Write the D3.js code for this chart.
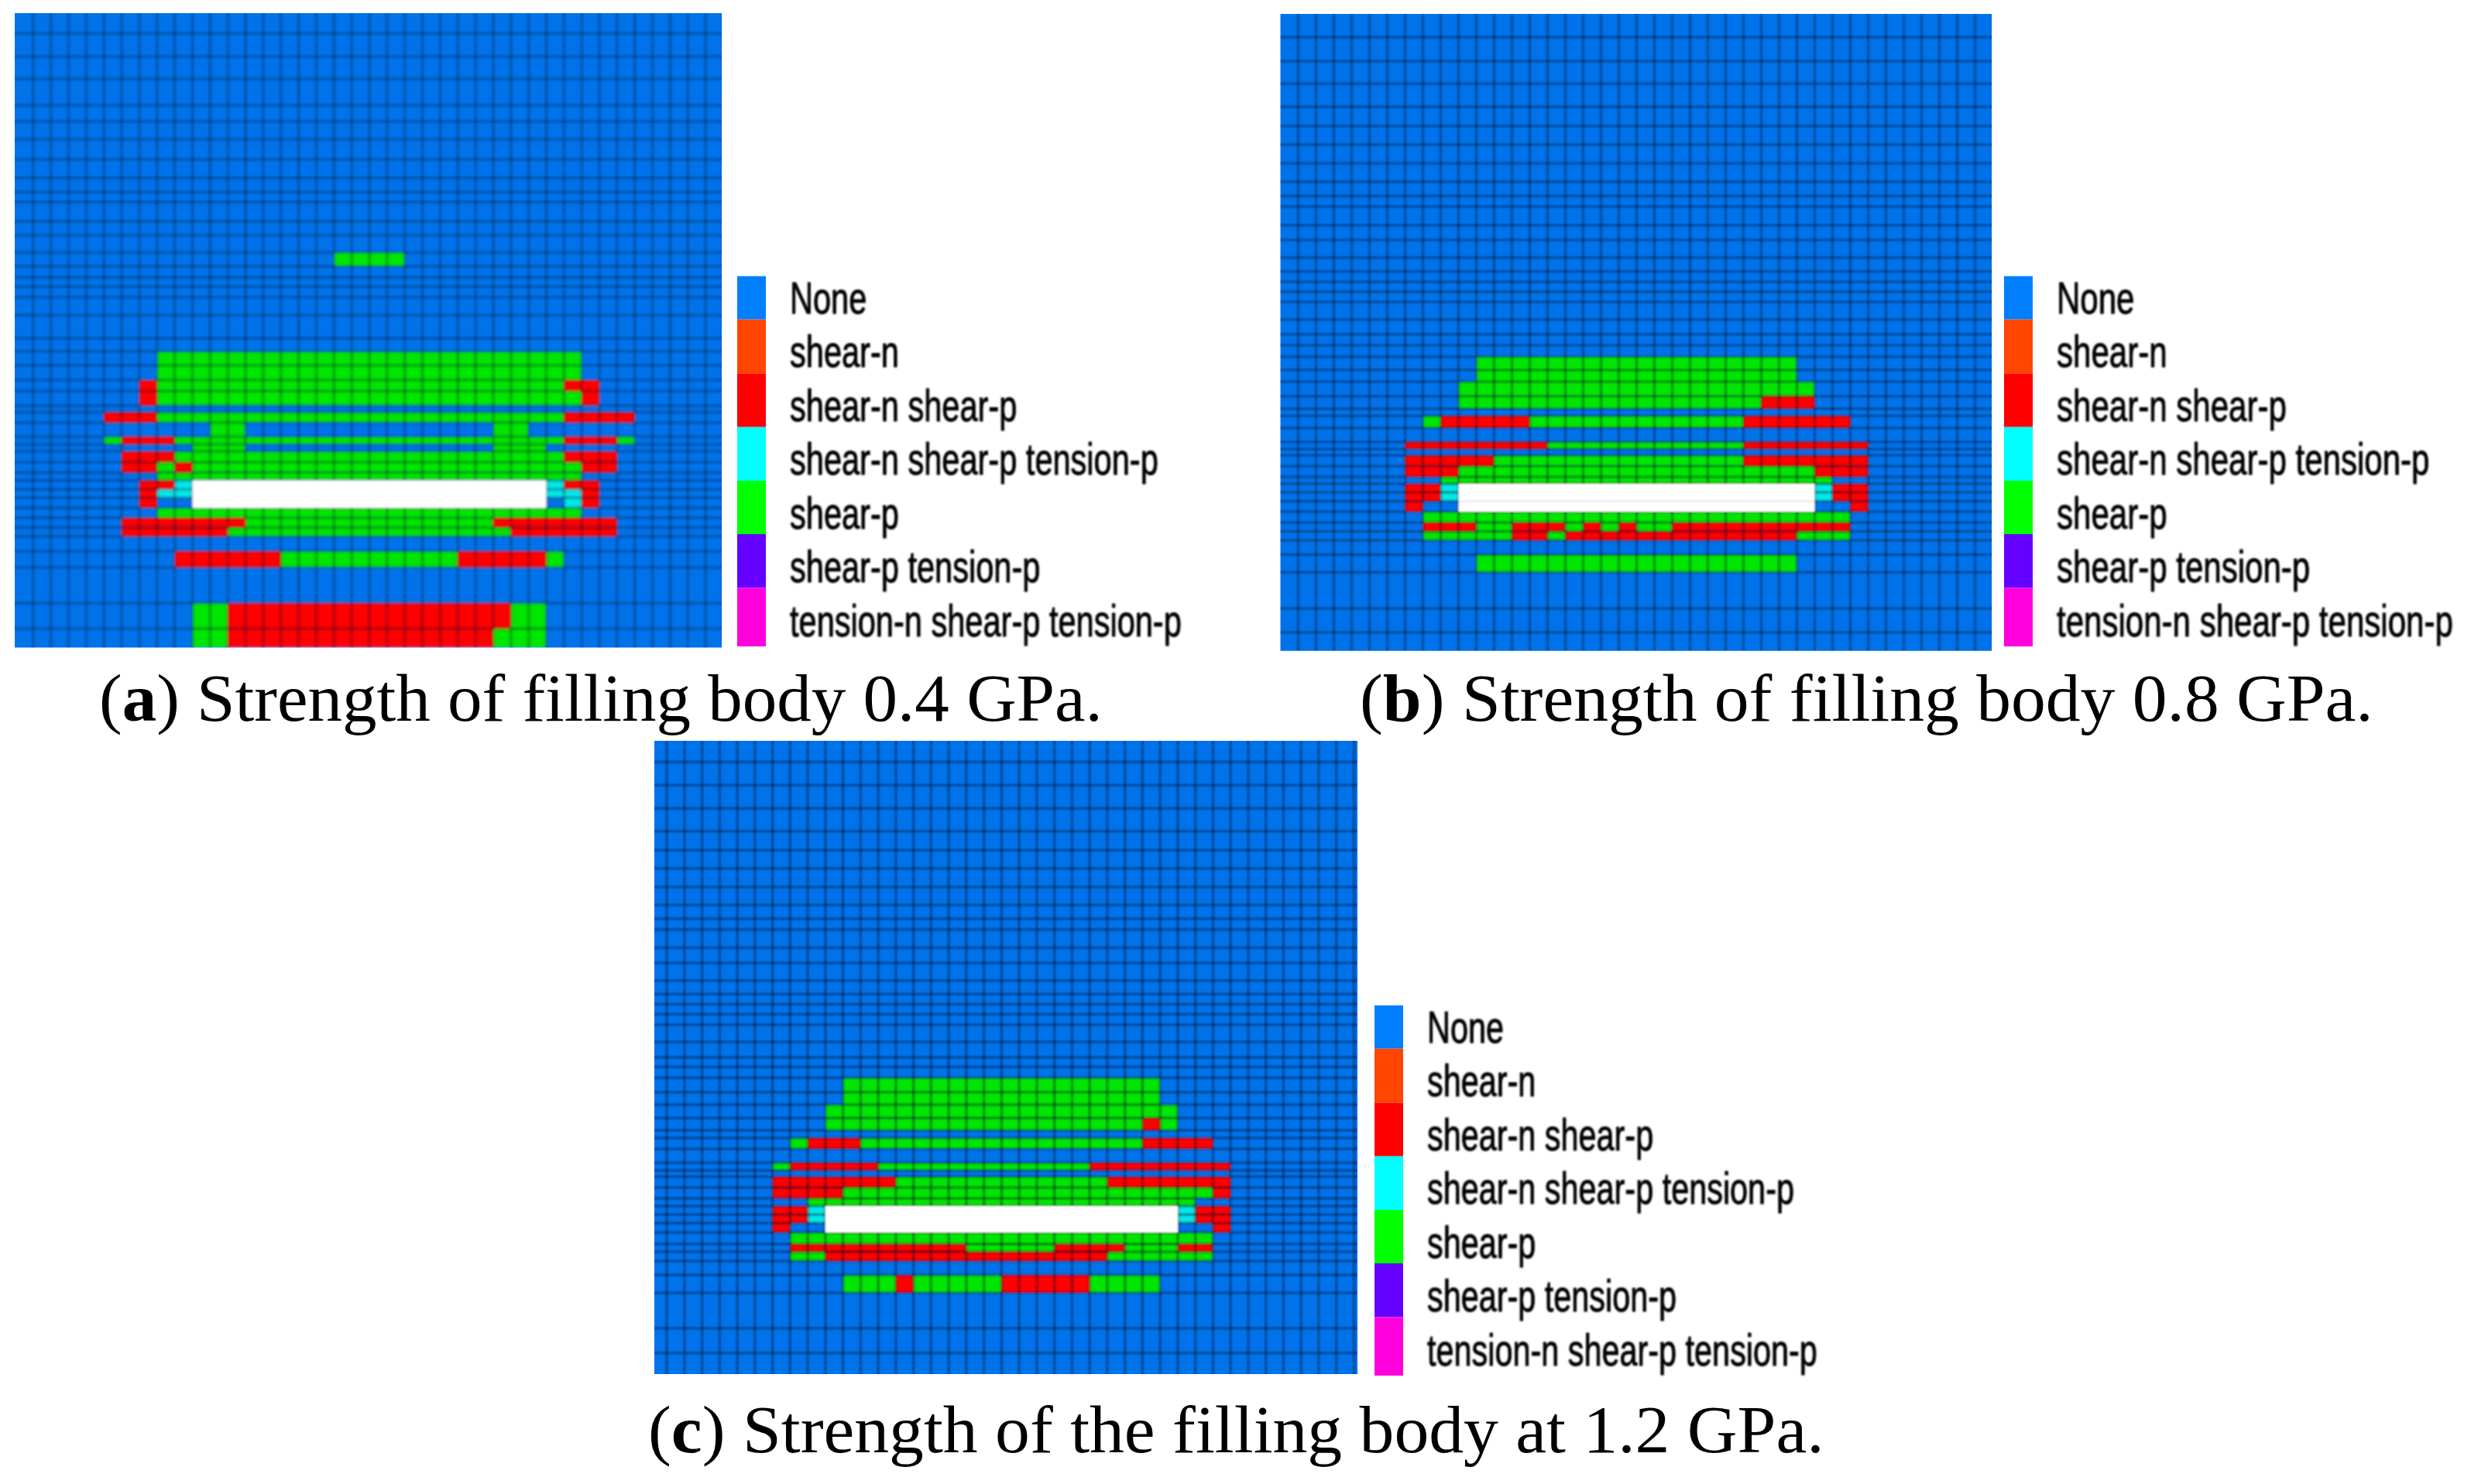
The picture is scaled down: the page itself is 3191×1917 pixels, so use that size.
<!DOCTYPE html>
<html>
<head>
<meta charset="utf-8">
<title>Plastic zones</title>
<script src="https://cdn.jsdelivr.net/npm/d3@7"></script>
<style>html,body{margin:0;padding:0;background:#fff}svg{display:block}</style>
</head>
<body>
<script>
// ---------- data ----------
const categories = ["None","shear-n","shear-n shear-p","shear-n shear-p tension-p","shear-p","shear-p tension-p","tension-n shear-p tension-p"];
const legendColors = ["#0080ff","#ff4500","#ff0000","#00ffff","#00ff00","#6400ff","#ff00dd"];
const legendEdges = [0,56,125.7,195,264.3,333.3,402.6,478.3];
const columnCount = 40;
const N=0, R=2, C=3, G=4, H=-1; // state index into categories; H = excavated hole

const rowEdgesA = [0,26,56,85,119,140,163,189,213,231,244,269,287,309,327,341,353,367,390,420,437,455,474,488,507,515.5,529,547,557,566,580,593.5,603.5,615,626,639,652,664.5,676,695,716,762,795,819.5];
const rowEdgesB = [0,30,61,90,120,144.7,168.7,193,217,235,248.7,272.7,292,314.7,332.7,346,358.7,372,394.7,413.7,428,442.7,460,475,493.7,510,519.3,534.7,552.7,562,570.3,584.3,598,607,618,629.5,643,657,668.5,680,698.5,721.3,768,798.7,822.7];
const rowEdgesC = [0,27.3,57.3,87.3,116.7,141.3,164.7,188.7,212,229.7,243.7,267.3,287,309.7,327.3,340.3,353.3,366.7,388.7,408.7,421.3,435.3,453.7,470,487.3,503.3,513,527,545,554.7,563,577,591,601,612,623,635,650,660,672,690,713,758.7,790.7,818];

// each zone: [meshY0, meshY1, [colStart, colEnd, state], ...]
const zonesA = [
 [309,327,[18,22,G]],
 [437,474,[8,32,G]],
 [474,488,[7,8,R],[8,31,G],[31,33,R]],
 [488,507,[7,8,R],[8,32,G],[32,33,R]],
 [515.5,529,[5,8,R],[8,31,G],[31,35,R]],
 [529,547,[11,13,G],[27,29,G]],
 [547,557,[5,6,G],[6,9,R],[9,31,G],[31,34,R],[34,35,G]],
 [557,566,[10,13,G],[27,30,G]],
 [566,580,[6,9,R],[9,31,G],[31,34,R]],
 [580,593.5,[6,8,R],[8,9,G],[9,10,R],[10,32,G],[32,34,R]],
 [593.5,603.5,[8,32,G]],
 [603.5,615,[7,9,R],[9,10,C],[10,30,H],[30,31,C],[31,33,R]],
 [615,626,[7,8,R],[8,10,C],[10,30,H],[30,32,C],[32,33,R]],
 [626,639,[7,8,R],[10,30,H],[31,32,C],[32,33,R]],
 [639,652,[8,32,G]],
 [652,664.5,[6,13,R],[13,27,G],[27,34,R]],
 [664.5,676,[6,12,R],[12,28,G],[28,34,R]],
 [695,716,[9,15,R],[15,25,G],[25,30,R],[30,31,G]],
 [762,795,[10,12,G],[12,28,R],[28,30,G]],
 [795,819.5,[10,12,G],[12,27,R],[27,30,G]]
];
const zonesB = [
 [442.7,475,[11,29,G]],
 [475,493.7,[10,30,G]],
 [493.7,510,[10,27,G],[27,30,R]],
 [519.3,534.7,[8,9,G],[9,14,R],[14,26,G],[26,32,R]],
 [552.7,562,[7,15,R],[15,26,G],[26,33,R]],
 [570.3,584.3,[7,12,R],[12,26,G],[26,33,R]],
 [584.3,598,[7,10,R],[10,30,G],[30,33,R]],
 [598,607,[9,31,G]],
 [607,629.5,[7,9,R],[9,10,C],[10,30,H],[30,31,C],[31,33,R]],
 [629.5,643,[7,8,R],[10,30,H],[32,33,R]],
 [643,657,[8,32,G]],
 [657,668.5,[8,11,R],[11,13,G],[13,16,R],[16,17,G],[17,18,R],[18,19,G],[19,20,R],[20,22,G],[22,32,R]],
 [668.5,680,[8,13,G],[13,15,R],[15,16,G],[16,29,R],[29,32,G]],
 [698.5,721.3,[11,29,G]]
];
const zonesC = [
 [435.3,470,[11,29,G]],
 [470,487.3,[10,30,G]],
 [487.3,503.3,[10,28,G],[28,29,R],[29,30,G]],
 [513,527,[8,9,G],[9,12,R],[12,28,G],[28,32,R]],
 [545,554.7,[7,8,G],[8,13,R],[13,25,G],[25,33,R]],
 [563,577,[7,14,R],[14,26,G],[26,33,R]],
 [577,591,[7,11,R],[11,32,G],[32,33,R]],
 [591,601,[9,31,G]],
 [601,623,[7,9,R],[9,10,C],[10,30,H],[30,31,C],[31,33,R]],
 [623,635,[7,8,R],[10,30,H],[32,33,R]],
 [635,650,[8,32,G]],
 [650,660,[8,18,R],[18,23,G],[23,27,R],[27,30,G],[30,32,R]],
 [660,672,[8,10,G],[10,26,R],[26,32,G]],
 [690,713,[11,14,G],[14,15,R],[15,20,G],[20,25,R],[25,29,G]]
];
const captionLetters = ["a","b","c"];
const captionTexts = [" Strength of filling body 0.4 GPa."," Strength of filling body 0.8 GPa."," Strength of the filling body at 1.2 GPa."];

// ---------- layout ----------
const W = 3191, H_ = 1917;
const panels = [
 {edges:rowEdgesA, zones:zonesA, bg:[19,932], top:17,   bottom:836.5, cols:[20,934],      lw:4,   op:.27, blur:1.6,
  legend:{dx:0,dy:0,tw:506},     caption:{x:128, y:931,  w:1296}},
 {edges:rowEdgesB, zones:zonesB, bg:[1653.5,2572], top:18, bottom:840.7, cols:[1653.5,2573.5], lw:3.5, op:.36, blur:1.1,
  legend:{dx:1636,dy:0,tw:512},  caption:{x:1756,y:931,  w:1309}},
 {edges:rowEdgesC, zones:zonesC, bg:[845,1753], top:957, bottom:1775, cols:[838.3,1748.5], lw:3.5, op:.40, blur:1.0,
  legend:{dx:823,dy:942,tw:504}, caption:{x:837, y:1876, w:1519}}
];
const meshColor = {[N]:"#0073ea",[R]:"#ff0000",[C]:"#00e8e8",[G]:"#00e600",[H]:"#ffffff"};

const svg = d3.select("body").append("svg").attr("width",W).attr("height",H_).attr("viewBox",`0 0 ${W} ${H_}`);
const defs = svg.append("defs");
panels.forEach((p,i)=>{
  defs.append("filter").attr("id","blur"+i).attr("x","-2%").attr("y","-2%").attr("width","104%").attr("height","104%")
    .append("feGaussianBlur").attr("stdDeviation",p.blur);
  defs.append("clipPath").attr("id","clip"+i).append("rect")
    .attr("x",p.bg[0]).attr("y",p.top).attr("width",p.bg[1]-p.bg[0]).attr("height",p.bottom-p.top);
});
defs.append("filter").attr("id","soft").attr("x","-2%").attr("y","-5%").attr("width","104%").attr("height","110%")
  .append("feGaussianBlur").attr("stdDeviation",0.8);

panels.forEach((p,i)=>{
  const x = d3.scaleLinear().domain([0,columnCount]).range(p.cols);
  const y = d3.scaleLinear().domain([0,d3.max(p.edges)]).range([p.top,p.bottom]);
  const clip = svg.append("g").attr("clip-path",`url(#clip${i})`);
  const g = clip.append("g").attr("filter",`url(#blur${i})`);

  g.append("rect").attr("x",p.bg[0]-6).attr("y",p.top-6)
    .attr("width",p.bg[1]-p.bg[0]+12).attr("height",p.bottom-p.top+12).attr("fill",meshColor[N]);

  const cells = p.zones.flatMap(z=>z.slice(2).map(r=>({y0:z[0],y1:z[1],c0:r[0],c1:r[1],s:r[2]})));
  const rects = sel => sel.attr("x",d=>x(d.c0)).attr("y",d=>y(d.y0))
      .attr("width",d=>x(d.c1)-x(d.c0)).attr("height",d=>y(d.y1)-y(d.y0)).attr("fill",d=>meshColor[d.s]);

  g.append("g").selectAll("rect").data(cells.filter(d=>d.s!==H)).join("rect").call(rects);

  const lines = g.append("g").attr("stroke","#00102a").attr("stroke-opacity",p.op).attr("stroke-width",p.lw);
  lines.selectAll("line.v").data(d3.range(1,columnCount+1)).join("line").attr("class","v")
    .attr("x1",d=>x(d)).attr("x2",d=>x(d)).attr("y1",p.top-6).attr("y2",p.bottom+6);
  lines.selectAll("line.h").data(p.edges.slice(1,-1)).join("line").attr("class","h")
    .attr("y1",d=>y(d)).attr("y2",d=>y(d)).attr("x1",p.bg[0]-6).attr("x2",p.bg[1]+6);

  g.append("g").selectAll("rect").data(cells.filter(d=>d.s===H)).join("rect").call(rects);

  // legend
  const lg = svg.append("g").attr("transform",`translate(${p.legend.dx},${p.legend.dy})`);
  const ly = d3.scaleLinear().domain([0,478.3]).range([356.7,835]);
  lg.selectAll("rect").data(categories).join("rect")
    .attr("x",952).attr("width",37)
    .attr("y",(d,k)=>ly(legendEdges[k])).attr("height",(d,k)=>ly(legendEdges[k+1])-ly(legendEdges[k]))
    .attr("fill",(d,k)=>legendColors[k]);
  const base = d3.scalePoint().domain(categories).range([405,821.7]);
  const labels = lg.append("g").attr("filter","url(#soft)").selectAll("text").data(categories).join("text")
    .attr("font-family","'Liberation Sans',Arial,sans-serif").attr("font-size",58).attr("fill","#000")
    .attr("stroke","#000").attr("stroke-width",1)
    .text(d=>d);
  const maxLen = d3.max(labels.nodes(),n=>n.getComputedTextLength());
  const sx = p.legend.tw/maxLen;
  labels.attr("transform",d=>`translate(1020,${base(d)}) scale(${sx},1)`);

  // caption
  const cap = svg.append("text").attr("font-family","'Liberation Serif','Times New Roman',serif")
    .attr("font-size",86).attr("fill","#000").attr("xml:space","preserve").style("white-space","pre");
  cap.append("tspan").text("(");
  cap.append("tspan").attr("font-weight","bold").text(captionLetters[i]);
  cap.append("tspan").text(")"+captionTexts[i]);
  const len = cap.node().getComputedTextLength();
  cap.attr("transform",`translate(${p.caption.x},${p.caption.y}) scale(${p.caption.w/len},1)`);
});
</script>
</body>
</html>
